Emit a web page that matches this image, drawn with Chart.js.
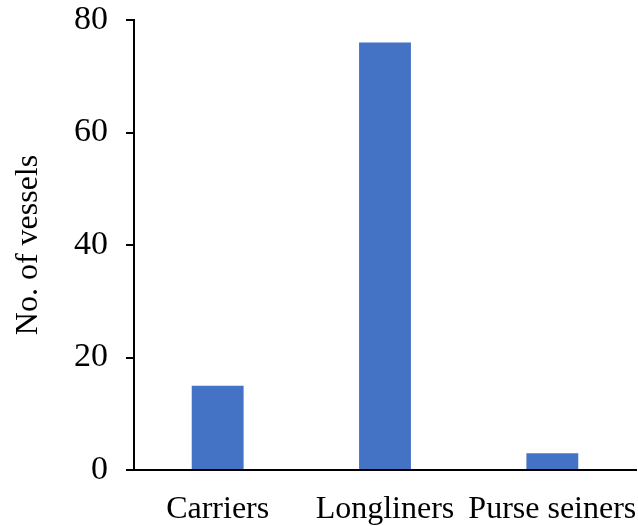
<!DOCTYPE html>
<html>
<head>
<meta charset="utf-8">
<script src="https://cdn.jsdelivr.net/npm/chart.js@4"></script>
<style>
html,body{margin:0;padding:0;background:#fff;}
#wrap{width:638px;height:526px;position:relative;}
</style>
</head>
<body>
<div id="wrap"><canvas id="c"></canvas></div>
<script>
const categories = ["Carriers", "Longliners", "Purse seiners"];
const vessels = [15, 76, 3];
const yTicks = [0, 20, 40, 60, 80];
const yTitle = "No. of vessels";

const FONT = "'Liberation Serif', 'Times New Roman', serif";

new Chart(document.getElementById('c'), {
  type: 'bar',
  data: {
    labels: categories,
    datasets: [{
      data: vessels,
      backgroundColor: '#4472C4',
      borderWidth: 0,
      categoryPercentage: 1.0,
      barPercentage: 0.31
    }]
  },
  options: {
    responsive: true,
    maintainAspectRatio: false,
    animation: false,
    devicePixelRatio: 1,
    layout: { padding: { top: 20, right: 2, left: 9, bottom: 0 } },
    plugins: { legend: { display: false }, tooltip: { enabled: false } },
    scales: {
      x: {
        grid: { display: false },
        border: { display: true, color: '#000', width: 2 },
        ticks: { color: '#000', font: { family: FONT, size: 32 }, padding: 12, maxRotation: 0, autoSkip: false },
        afterFit: (s) => { s.height = 56; s.paddingRight = 0; s.paddingLeft = 0; }
      },
      y: {
        min: 0, max: 80,
        afterBuildTicks: (s) => { s.ticks = yTicks.map(v => ({ value: v })); },
        grid: { display: true, drawOnChartArea: false, drawTicks: true, tickLength: 8, color: '#000', lineWidth: 2 },
        border: { display: true, color: '#000', width: 2 },
        ticks: { color: '#000', font: { family: FONT, size: 34 }, padding: 18 },
        title: { display: true, text: yTitle, color: '#000', font: { family: FONT, size: 32 }, padding: { top: 0, bottom: 10 } },
        afterFit: (s) => { s.width = 125; s.paddingTop = 0; s.paddingBottom = 0; }
      }
    }
  }
});
</script>
</body>
</html>
